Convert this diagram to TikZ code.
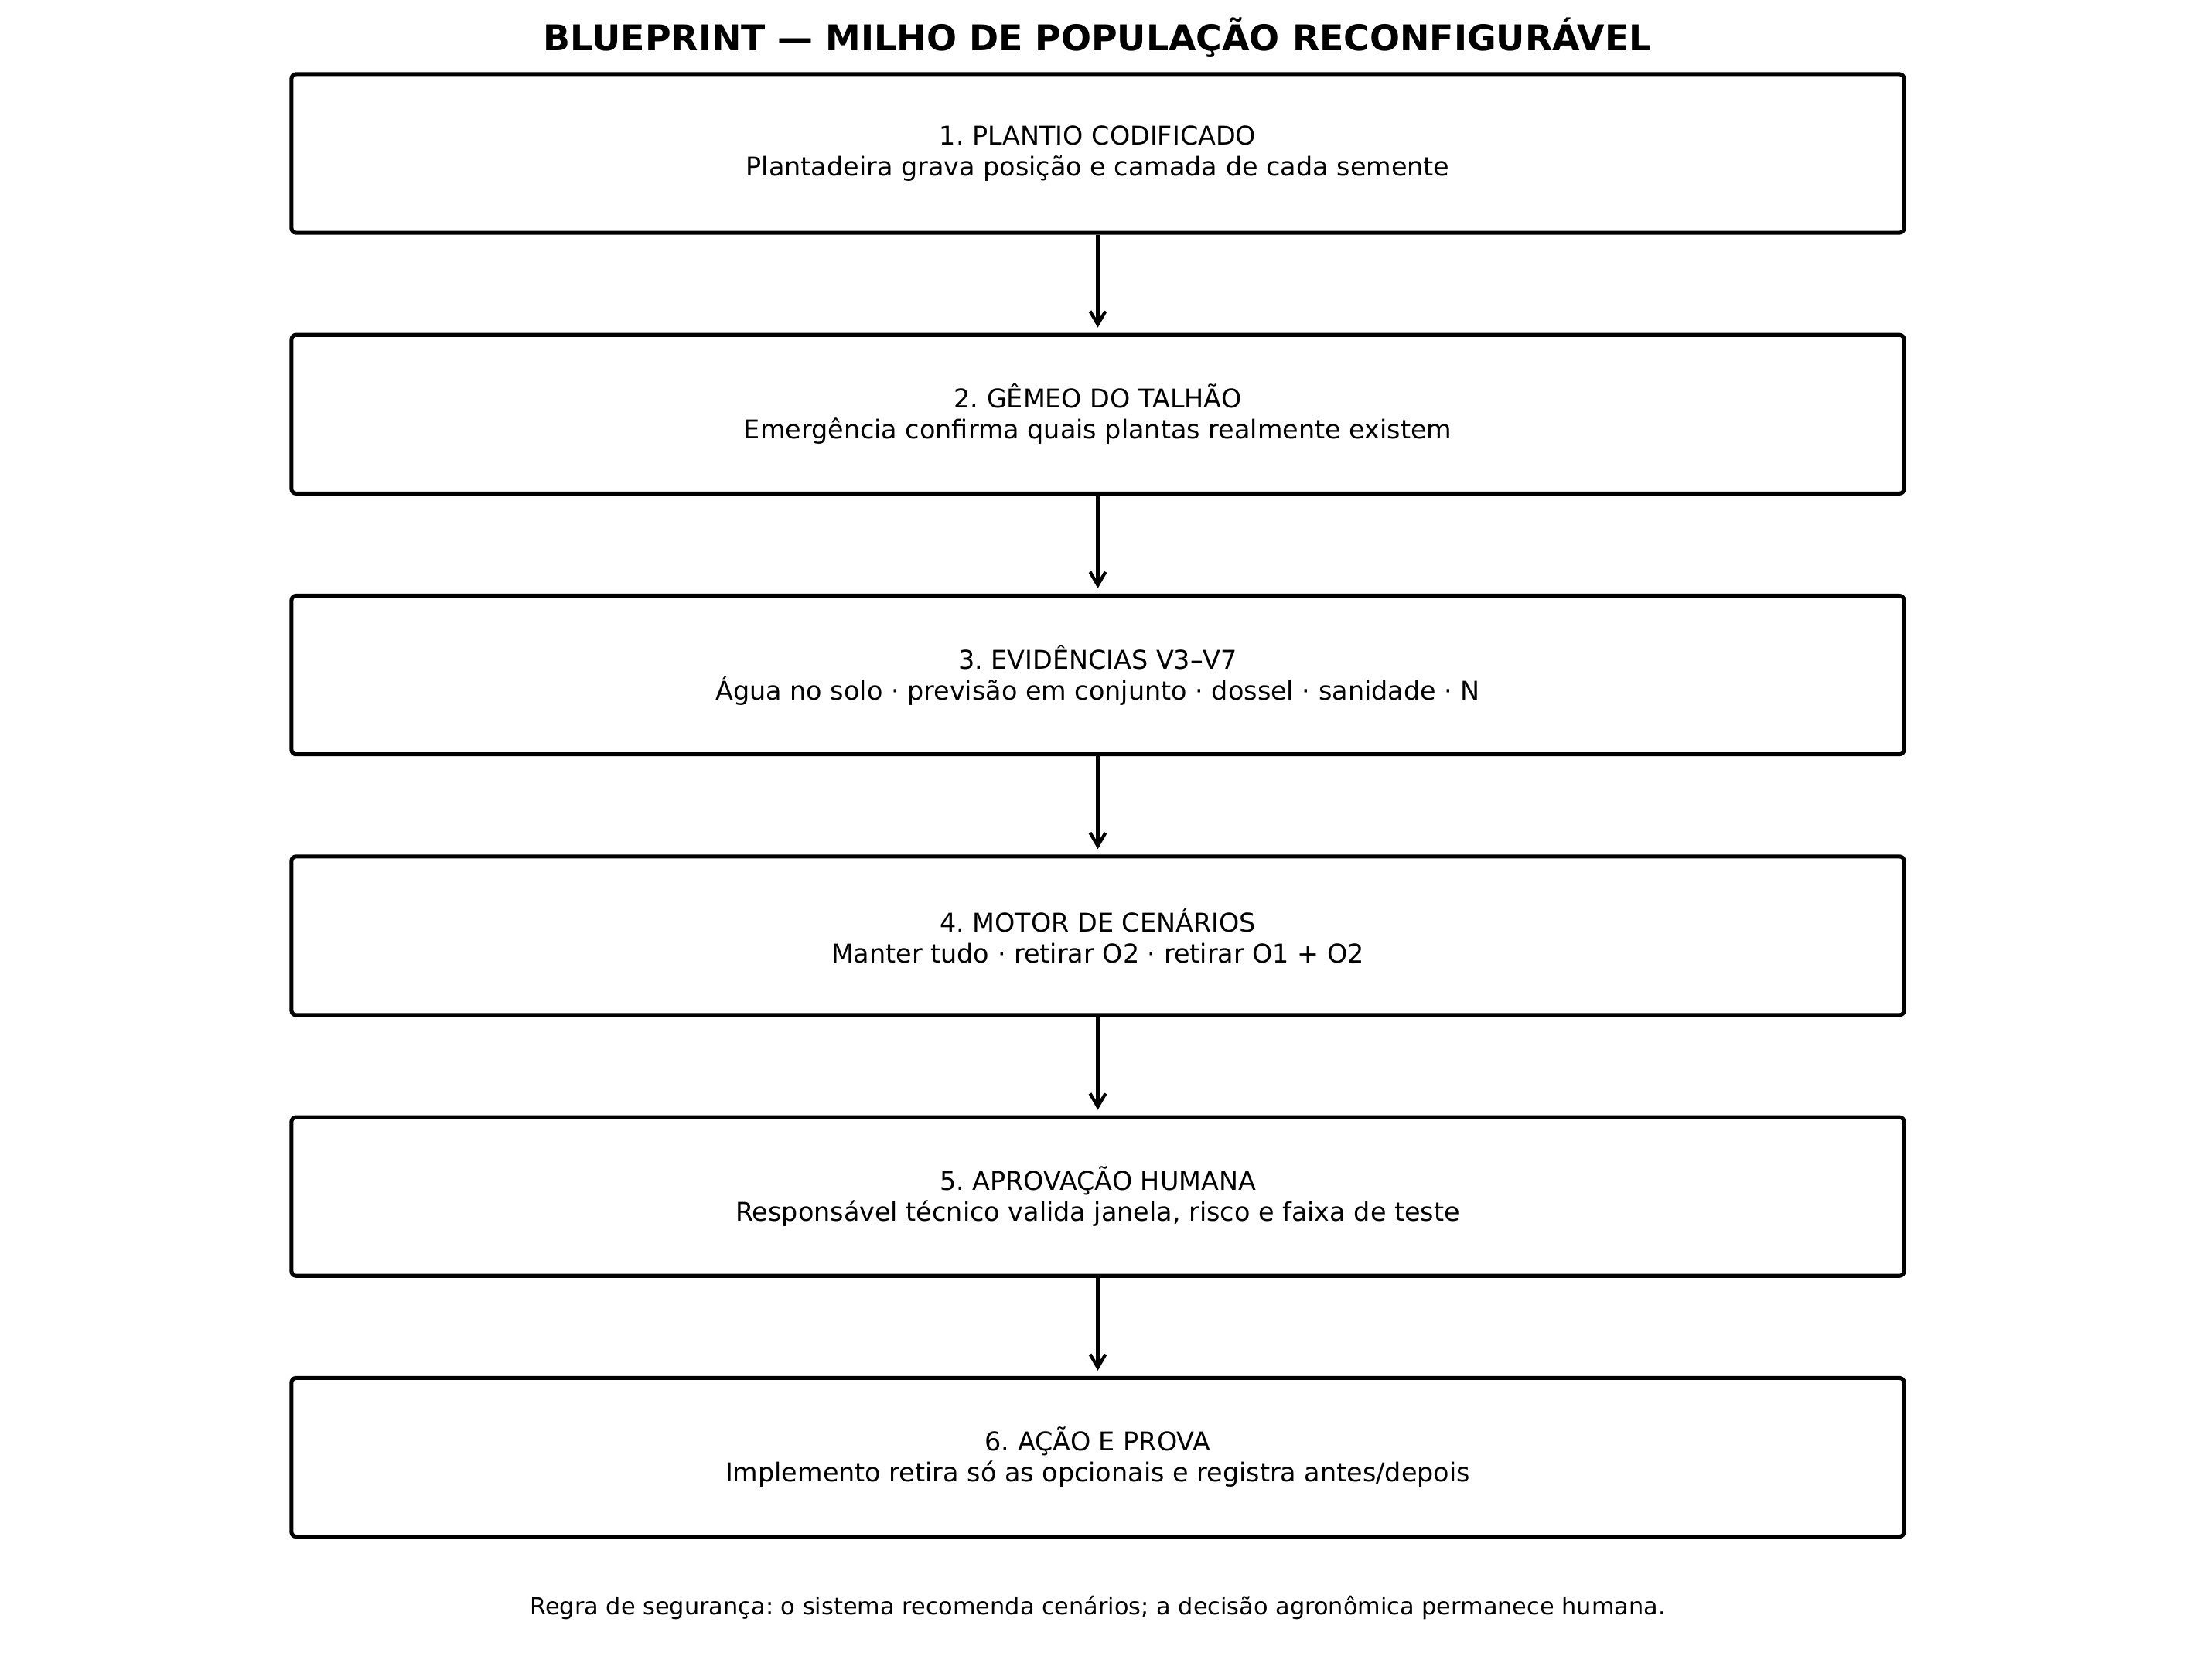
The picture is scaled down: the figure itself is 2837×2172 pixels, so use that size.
\documentclass[tikz,border=0pt]{standalone}
\usepackage{fontspec}
\setmainfont{DejaVu Sans}
\usetikzlibrary{positioning,arrows.meta}
\frenchspacing

\tikzset{
  stage/.style={draw, line width=1.45pt, rounded corners=0.06cm,
    minimum width=20.84cm, minimum height=2.05cm, align=center,
    inner sep=0pt, font=\fontsize{9.5}{11.4}\selectfont},
  flow/.style={-{Straight Barb[length=0.17cm,width=0.2cm,line width=1.2pt]},
    line width=1.2pt, shorten >=0.07cm}
}

\begin{document}
\begin{tikzpicture}[x=0.01cm, y=-0.01cm]

  \useasboundingbox (0,0) rectangle (2837,2172);

  \node[font=\fontsize{13.05}{16}\selectfont\bfseries] (title) at (1419.5,49)
    {BLUEPRINT — MILHO DE POPULAÇÃO RECONFIGURÁVEL};

  \node[stage] (plantio) at (1419.5,198.5)
    {1. PLANTIO CODIFICADO\\Plantadeira grava posição e camada de cada semente};
  \node[stage, below=1.27cm of plantio] (gemeo)
    {2. GÊMEO DO TALHÃO\\Emergência confirma quais plantas realmente existem};
  \node[stage, below=1.27cm of gemeo] (evid)
    {3. EVIDÊNCIAS V3–V7\\Água no solo · previsão em conjunto · dossel · sanidade · N};
  \node[stage, below=1.27cm of evid] (motor)
    {4. MOTOR DE CENÁRIOS\\Manter tudo · retirar O2 · retirar O1 + O2};
  \node[stage, below=1.27cm of motor] (aprov)
    {5. APROVAÇÃO HUMANA\\Responsável técnico valida janela, risco e faixa de teste};
  \node[stage, below=1.27cm of aprov] (acao)
    {6. AÇÃO E PROVA\\Implemento retira só as opcionais e registra antes/depois};

  \foreach \a/\b in {plantio/gemeo, gemeo/evid, evid/motor, motor/aprov, aprov/acao}
    \draw[flow] (\a.south) -- (\b.north);

  \node[font=\fontsize{8.63}{10}\selectfont] (regra) at (1419.5,2079)
    {Regra de segurança: o sistema recomenda cenários; a decisão agronômica permanece humana.};

\end{tikzpicture}
\end{document}
